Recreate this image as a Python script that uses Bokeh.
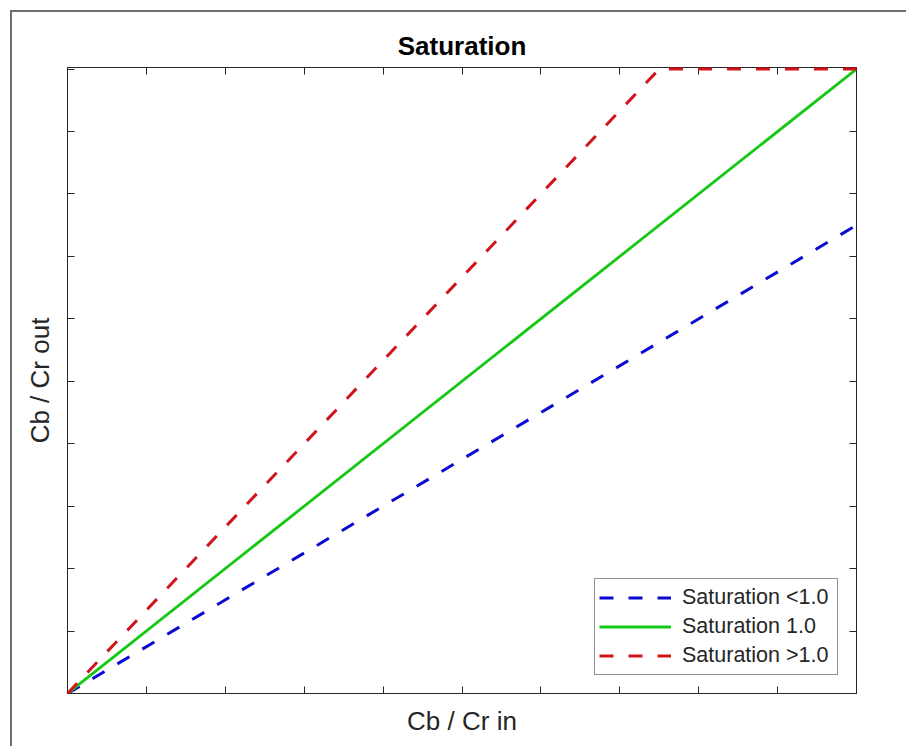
from bokeh.plotting import figure
from bokeh.models import LinearAxis, FixedTicker, Range1d
from bokeh.embed import file_html
from bokeh.resources import INLINE

# ---- data ----
x_in = [0.0, 1.0]
sat_low = [0.0, 0.75]
sat_one = [0.0, 1.0]
x_high = [0.0, 0.75, 1.0]
sat_high = [0.0, 1.0, 1.0]
ticks = [0.0, 0.1, 0.2, 0.3, 0.4, 0.5, 0.6, 0.7, 0.8, 0.9, 1.0]

title_text = "Saturation"
xlabel = "Cb / Cr in"
ylabel = "Cb / Cr out"
labels = ["Saturation <1.0", "Saturation 1.0", "Saturation >1.0"]

FONT = "Liberation Sans"
AX = "#262626"

p = figure(width=894, height=734, output_backend="svg", toolbar_location=None,
           x_range=Range1d(0, 1), y_range=Range1d(0, 1.0025),
           frame_width=789, frame_height=626,
           min_border_left=55, min_border_top=55, min_border_right=50, min_border_bottom=53)
p.margin = (10, 0, 0, 10)
p.styles = {"border-left": "2px solid #6e6e6e", "border-top": "2px solid #6e6e6e"}

p.title.text = title_text
p.title.align = "center"
p.title.text_font = FONT
p.title.text_font_size = "26px"
p.title.text_font_style = "bold"
p.title.text_color = "#000000"
p.title.standoff = 14

p.xgrid.visible = False
p.ygrid.visible = False
p.outline_line_color = AX
p.outline_line_width = 1
p.background_fill_color = "white"
p.border_fill_color = "white"


def style_axis(ax, label=None):
    ax.ticker = FixedTicker(ticks=ticks)
    ax.minor_tick_line_color = None
    ax.major_tick_in = 7
    ax.major_tick_out = 0
    ax.major_tick_line_color = AX
    ax.major_tick_line_width = 1
    ax.axis_line_color = AX
    ax.axis_line_width = 1
    ax.major_label_overrides = {t: "" for t in ticks}
    ax.major_label_standoff = 0
    if label:
        ax.axis_label = label
        ax.axis_label_text_font = FONT
        ax.axis_label_text_font_size = "26px"
        ax.axis_label_text_font_style = "normal"
        ax.axis_label_text_color = AX


style_axis(p.xaxis[0], xlabel)
style_axis(p.yaxis[0], ylabel)
p.xaxis[0].axis_label_standoff = 12
p.yaxis[0].axis_label_standoff = 13

top_ax = LinearAxis()
style_axis(top_ax)
p.add_layout(top_ax, "above")
right_ax = LinearAxis()
style_axis(right_ax)
p.add_layout(right_ax, "right")

p.line(x_in, sat_low, line_color="#0a0ad2", line_width=3, line_dash="14 15",
       legend_label=labels[0])
p.line(x_in, sat_one, line_color="#14c814", line_width=2.8,
       legend_label=labels[1])
p.line(x_high, sat_high, line_color="#d0141a", line_width=3, line_dash="14 15",
       legend_label=labels[2], level="overlay")

lg = p.legend[0]
lg.location = "bottom_right"
lg.margin = 18
lg.padding = 4
lg.spacing = 0
lg.label_height = 29
lg.glyph_height = 29
lg.glyph_width = 72
lg.label_width = 151
lg.label_standoff = 11
lg.label_text_font = FONT
lg.label_text_font_size = "21.5px"
lg.label_text_color = AX
lg.border_line_color = AX
lg.border_line_width = 1
lg.background_fill_color = "white"
lg.background_fill_alpha = 1.0

open("out.html", "w").write(file_html(p, INLINE))
